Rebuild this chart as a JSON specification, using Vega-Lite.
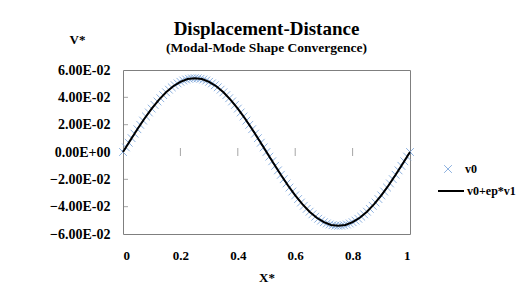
{
  "$schema": "https://vega.github.io/schema/vega-lite/v6.json",
  "width": 287,
  "height": 164,
  "autosize": {"type": "none"},
  "padding": {"left": 123, "top": 70, "right": 122, "bottom": 65},
  "background": "white",
  "config": {
    "view": {"stroke": "#7f7f7f", "strokeWidth": 1},
    "font": "Liberation Serif"
  },
  "title": {
    "text": "Displacement-Distance",
    "subtitle": "(Modal-Mode Shape Convergence)",
    "anchor": "middle",
    "font": "Liberation Serif",
    "fontSize": 19,
    "fontWeight": "bold",
    "color": "#000000",
    "subtitleFont": "Liberation Serif",
    "subtitleFontSize": 13.5,
    "subtitleFontWeight": "bold",
    "subtitleColor": "#000000",
    "subtitlePadding": 2,
    "offset": -21
  },
  "datasets": {
    "markers": [
      {"x":0,"v":0},{"x":0.01,"v":0.00339},{"x":0.02,"v":0.00677},{"x":0.03,"v":0.01012},{"x":0.04,"v":0.01343},{"x":0.05,"v":0.01669},{"x":0.06,"v":0.01988},{"x":0.07,"v":0.02299},{"x":0.08,"v":0.02601},{"x":0.09,"v":0.02893},
      {"x":0.10,"v":0.03174},{"x":0.11,"v":0.03442},{"x":0.12,"v":0.03697},{"x":0.13,"v":0.03936},{"x":0.14,"v":0.04161},{"x":0.15,"v":0.04369},{"x":0.16,"v":0.04559},{"x":0.17,"v":0.04732},{"x":0.18,"v":0.04886},{"x":0.19,"v":0.05021},
      {"x":0.20,"v":0.05136},{"x":0.21,"v":0.05230},{"x":0.22,"v":0.05304},{"x":0.23,"v":0.05357},{"x":0.24,"v":0.05389},{"x":0.25,"v":0.054},{"x":0.26,"v":0.05389},{"x":0.27,"v":0.05357},{"x":0.28,"v":0.05304},{"x":0.29,"v":0.05230},
      {"x":0.30,"v":0.05136},{"x":0.31,"v":0.05021},{"x":0.32,"v":0.04886},{"x":0.33,"v":0.04732},{"x":0.34,"v":0.04559},{"x":0.35,"v":0.04369},{"x":0.36,"v":0.04161},{"x":0.37,"v":0.03936},{"x":0.38,"v":0.03697},{"x":0.39,"v":0.03442},
      {"x":0.40,"v":0.03174},{"x":0.41,"v":0.02893},{"x":0.42,"v":0.02601},{"x":0.43,"v":0.02299},{"x":0.44,"v":0.01988},{"x":0.45,"v":0.01669},{"x":0.46,"v":0.01343},{"x":0.47,"v":0.01012},{"x":0.48,"v":0.00677},{"x":0.49,"v":0.00339},
      {"x":0.50,"v":0},{"x":0.51,"v":-0.00339},{"x":0.52,"v":-0.00677},{"x":0.53,"v":-0.01012},{"x":0.54,"v":-0.01343},{"x":0.55,"v":-0.01669},{"x":0.56,"v":-0.01988},{"x":0.57,"v":-0.02299},{"x":0.58,"v":-0.02601},{"x":0.59,"v":-0.02893},
      {"x":0.60,"v":-0.03174},{"x":0.61,"v":-0.03442},{"x":0.62,"v":-0.03697},{"x":0.63,"v":-0.03936},{"x":0.64,"v":-0.04161},{"x":0.65,"v":-0.04369},{"x":0.66,"v":-0.04559},{"x":0.67,"v":-0.04732},{"x":0.68,"v":-0.04886},{"x":0.69,"v":-0.05021},
      {"x":0.70,"v":-0.05136},{"x":0.71,"v":-0.05230},{"x":0.72,"v":-0.05304},{"x":0.73,"v":-0.05357},{"x":0.74,"v":-0.05389},{"x":0.75,"v":-0.054},{"x":0.76,"v":-0.05389},{"x":0.77,"v":-0.05357},{"x":0.78,"v":-0.05304},{"x":0.79,"v":-0.05230},
      {"x":0.80,"v":-0.05136},{"x":0.81,"v":-0.05021},{"x":0.82,"v":-0.04886},{"x":0.83,"v":-0.04732},{"x":0.84,"v":-0.04559},{"x":0.85,"v":-0.04369},{"x":0.86,"v":-0.04161},{"x":0.87,"v":-0.03936},{"x":0.88,"v":-0.03697},{"x":0.89,"v":-0.03442},
      {"x":0.90,"v":-0.03174},{"x":0.91,"v":-0.02893},{"x":0.92,"v":-0.02601},{"x":0.93,"v":-0.02299},{"x":0.94,"v":-0.01988},{"x":0.95,"v":-0.01669},{"x":0.96,"v":-0.01343},{"x":0.97,"v":-0.01012},{"x":0.98,"v":-0.00677},{"x":0.99,"v":-0.00339},
      {"x":1.0,"v":0}
    ],
    "line": [
      {"x":0,"v":0},{"x":0.025,"v":0.00845},{"x":0.05,"v":0.01669},{"x":0.075,"v":0.02452},{"x":0.1,"v":0.03174},{"x":0.125,"v":0.03818},{"x":0.15,"v":0.04369},{"x":0.175,"v":0.04811},{"x":0.2,"v":0.05136},{"x":0.225,"v":0.05334},
      {"x":0.25,"v":0.054},{"x":0.275,"v":0.05334},{"x":0.3,"v":0.05136},{"x":0.325,"v":0.04811},{"x":0.35,"v":0.04369},{"x":0.375,"v":0.03818},{"x":0.4,"v":0.03174},{"x":0.425,"v":0.02452},{"x":0.45,"v":0.01669},{"x":0.475,"v":0.00845},
      {"x":0.5,"v":0},{"x":0.525,"v":-0.00845},{"x":0.55,"v":-0.01669},{"x":0.575,"v":-0.02452},{"x":0.6,"v":-0.03174},{"x":0.625,"v":-0.03818},{"x":0.65,"v":-0.04369},{"x":0.675,"v":-0.04811},{"x":0.7,"v":-0.05136},{"x":0.725,"v":-0.05334},
      {"x":0.75,"v":-0.054},{"x":0.775,"v":-0.05334},{"x":0.8,"v":-0.05136},{"x":0.825,"v":-0.04811},{"x":0.85,"v":-0.04369},{"x":0.875,"v":-0.03818},{"x":0.9,"v":-0.03174},{"x":0.925,"v":-0.02452},{"x":0.95,"v":-0.01669},{"x":0.975,"v":-0.00845},
      {"x":1.0,"v":0}
    ],
    "xticks": [{"x":0.2},{"x":0.4},{"x":0.6},{"x":0.8}],
    "yticks": [{"y":-0.04},{"y":-0.02},{"y":0.02},{"y":0.04}]
  },
  "layer": [
    {
      "data": {"name": "markers"},
      "mark": {"type": "point", "shape": "M-1,-1L1,1M-1,1L1,-1", "filled": false, "size": 60, "strokeWidth": 1, "opacity": 0.9},
      "encoding": {
        "x": {
          "field": "x", "type": "quantitative",
          "scale": {"domain": [0, 1], "nice": false, "zero": false},
          "axis": {
            "values": [0, 0.2, 0.4, 0.6, 0.8, 1], "tickCount": 10, "format": "~g", "title": "X*",
            "labelOverlap": false, "grid": false, "domain": false, "ticks": false,
            "labelFont": "Liberation Serif", "labelFontWeight": "bold", "labelColor": "#000000", "labelFontSize": 13, "labelPadding": 15,
            "titleFont": "Liberation Serif", "titleFontSize": 13, "titleFontWeight": "bold", "titleColor": "#000000", "titlePadding": 9
          }
        },
        "y": {
          "field": "v", "type": "quantitative",
          "scale": {"domain": [-0.06, 0.06], "nice": false, "zero": false},
          "axis": {
            "values": [-0.06, -0.04, -0.02, 0, 0.02, 0.04, 0.06],
            "tickCount": 10,
            "labelExpr": "replace(replace(upper(format(datum.value, '.2e')), 'E-', 'E-0'), 'E+', 'E+0')",
            "labelOverlap": false, "grid": false, "domain": false, "ticks": false,
            "labelFont": "Liberation Serif", "labelFontWeight": "bold", "labelColor": "#000000", "labelFontSize": 14, "labelPadding": 13,
            "title": "V*",
            "titleFont": "Liberation Serif", "titleFontSize": 13, "titleFontWeight": "bold", "titleColor": "#000000",
            "titleAngle": 0, "titleAlign": "center", "titleBaseline": "alphabetic", "titleX": -46, "titleY": -27
          }
        },
        "color": {
          "datum": "v0", "type": "nominal",
          "scale": {"range": ["#82aadd"]},
          "legend": {
            "orient": "none", "legendX": 319, "legendY": 93, "padding": 0,
            "title": null,
            "symbolType": "M-1,-1L1,1M-1,1L1,-1",
            "symbolSize": 60, "symbolStrokeWidth": 1,
            "labelFont": "Liberation Serif", "labelFontSize": 12, "labelFontWeight": "bold", "labelColor": "#000000",
            "labelOffset": 11
          }
        }
      }
    },
    {
      "mark": {"type": "rule", "color": "#7f7f7f", "strokeWidth": 1},
      "encoding": {"y": {"datum": 0, "type": "quantitative"}}
    },
    {
      "data": {"name": "xticks"},
      "mark": {"type": "tick", "orient": "vertical", "color": "#7f7f7f", "size": 8, "thickness": 1},
      "encoding": {
        "x": {"field": "x", "type": "quantitative"},
        "y": {"datum": 0, "type": "quantitative"}
      }
    },
    {
      "data": {"name": "yticks"},
      "mark": {"type": "tick", "orient": "horizontal", "color": "#7f7f7f", "size": 5, "thickness": 1, "xOffset": 2.5},
      "encoding": {
        "x": {"datum": 0, "type": "quantitative"},
        "y": {"field": "y", "type": "quantitative"}
      }
    },
    {
      "data": {"name": "line"},
      "mark": {"type": "line", "strokeWidth": 2},
      "encoding": {
        "x": {"field": "x", "type": "quantitative"},
        "y": {"field": "v", "type": "quantitative"},
        "stroke": {
          "datum": "v0+ep*v1", "type": "nominal",
          "scale": {"range": ["#000000"]},
          "legend": {
            "orient": "none", "legendX": 314, "legendY": 107, "padding": 0,
            "title": null,
            "symbolType": "stroke",
            "symbolSize": 676, "symbolStrokeWidth": 2,
            "labelFont": "Liberation Serif", "labelFontSize": 12, "labelFontWeight": "bold", "labelColor": "#000000",
            "labelOffset": 2
          }
        }
      }
    }
  ]
}
